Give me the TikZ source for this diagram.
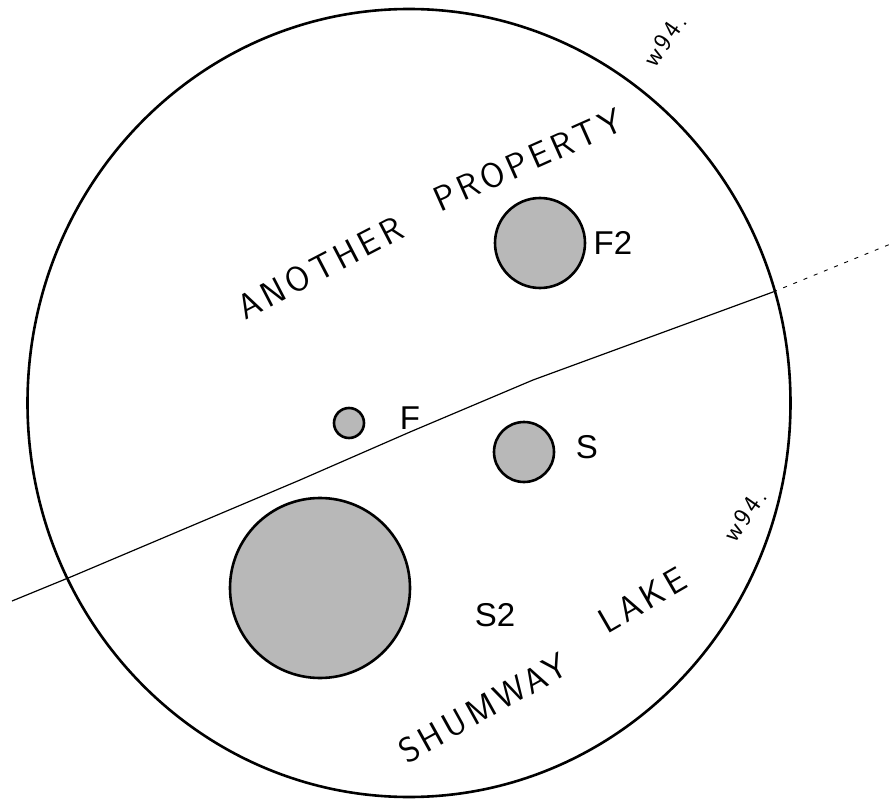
\documentclass[tikz,border=0pt]{standalone}
\usepackage{fontspec}
\newfontfamily\labelfont{Liberation Sans}
\newfontfamily\handfont{Latin Modern Sans}[LetterSpace=12]
\usetikzlibrary{shapes.geometric}
\tikzset{
  blob/.style={circle, draw=black, line width=2.6pt, fill=black!28, inner sep=0pt},
  lbl/.style={font=\labelfont\fontsize{33}{33}\selectfont, inner sep=0pt},
  hand/.style={font=\handfont\fontsize{35}{35}\selectfont, inner sep=0pt},
  handsmall/.style={font=\handfont\fontsize{26}{26}\selectfont, inner sep=0pt},
  divider/.style={line width=1.2pt},
}
\begin{document}
\begin{tikzpicture}[x=1pt,y=-1pt]
\useasboundingbox (0,0) rectangle (895,800);
% outer boundary
\node[ellipse, draw, line width=2.6pt, minimum width=763pt, minimum height=788pt, inner sep=0pt] (outer) at (409,403) {};
% dividing line
\coordinate (l0) at (12,601);
\coordinate (l1) at (73,576);
\coordinate (l2) at (300,480);
\coordinate (l3) at (410,432);
\coordinate (l4) at (533,380);
\coordinate (l5) at (773,292);
\coordinate (l6) at (893,243);
\draw[divider] (l0) -- (l1) -- (l2) -- (l3) -- (l4) -- (l5);
\draw[divider, line width=0.9pt, dash pattern=on 4pt off 7pt] (l5) -- (l6);
% stations
\node[blob, minimum size=90pt] (f2) at (540,243) {};
\node[blob, minimum size=30pt] (f) at (349,423) {};
\node[blob, minimum size=60pt] (s) at (524,452) {};
\node[blob, minimum size=180pt] (s2) at (320,588) {};
% labels
\node[lbl] (f2l) at (613,243) {F2};
\node[lbl] (fl) at (410,418) {F};
\node[lbl] (sl) at (587,447) {S};
\node[lbl] (s2l) at (495,615) {S2};
% handwritten notes
\node[hand, rotate=27.5] (another) at (320,268) {ANOTHER};
\node[hand, rotate=24] (property) at (528,160) {PROPERTY};
\node[handsmall, rotate=55] (w1) at (665,40) {w94.};
\node[hand, rotate=29] (shumway) at (483,708) {SHUMWAY};
\node[hand, rotate=30] (lake) at (642,600) {LAKE};
\node[handsmall, rotate=55] (w2) at (745,515) {w94.};
\end{tikzpicture}
\end{document}
